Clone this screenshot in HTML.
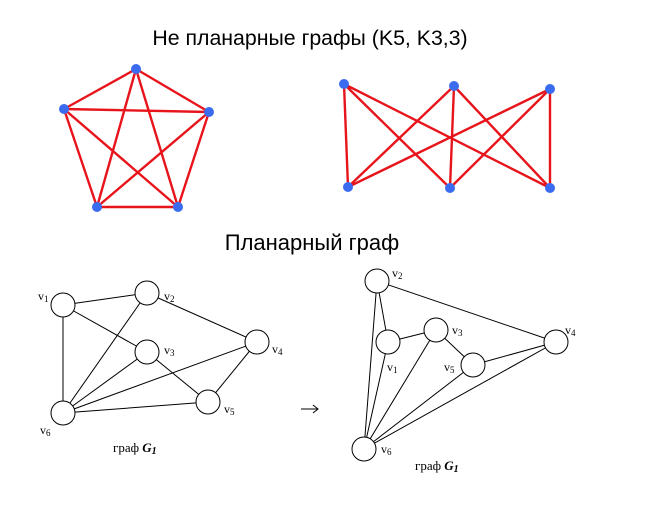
<!DOCTYPE html>
<html><head><meta charset="utf-8"><style>
html,body{margin:0;padding:0;background:#fff;}
svg{display:block;}
</style></head><body>
<svg width="672" height="523" viewBox="0 0 672 523" xmlns="http://www.w3.org/2000/svg">
<text x="310" y="45" font-family="Liberation Sans, sans-serif" font-size="21.3" text-anchor="middle" fill="#000">Не планарные графы (K5, K3,3)</text>
<text x="312" y="250" font-family="Liberation Sans, sans-serif" font-size="22" text-anchor="middle" fill="#000">Планарный граф</text>
<g stroke="#e8141c" stroke-width="2.4" fill="none">
<path d="M136,69L64,109M136,69L209,112M136,69L97,207M136,69L178,207M64,109L209,112M64,109L97,207M64,109L178,207M209,112L97,207M209,112L178,207M97,207L178,207"/>
<path d="M344,84L348,187M344,84L450,188M344,84L550,188M454,86L348,187M454,86L450,188M454,86L550,188M550,89L348,187M550,89L450,188M550,89L550,188"/>
</g>
<g fill="#3b6cf0">
<circle cx="136" cy="69" r="5"/><circle cx="64" cy="109" r="5"/><circle cx="209" cy="112" r="5"/><circle cx="97" cy="207" r="5"/><circle cx="178" cy="207" r="5"/>
<circle cx="344" cy="84" r="5"/><circle cx="454" cy="86" r="5"/><circle cx="550" cy="89" r="5"/><circle cx="348" cy="187" r="5"/><circle cx="450" cy="188" r="5"/><circle cx="550" cy="188" r="5"/>
</g>
<g stroke="#000" stroke-width="1" fill="none">
<path d="M63,305L147,293M63,305L147,352M63,305L63,413M147,293L257,342M147,293L63,413M147,352L208,402M147,352L63,413M257,342L208,402M257,342L63,413M208,402L63,413"/>
<path d="M377,281L388,342M377,281L556,342M377,281L364,449M388,342L436,330M388,342L364,449M436,330L473,365M436,330L364,449M473,365L556,342M473,365L364,449M556,342L364,449"/>
</g>
<g stroke="#000" stroke-width="1" fill="#fff">
<circle cx="63" cy="305" r="12"/><circle cx="147" cy="293" r="12"/><circle cx="147" cy="352" r="12"/><circle cx="257" cy="342" r="12"/><circle cx="208" cy="402" r="12"/><circle cx="63" cy="413" r="12"/>
<circle cx="377" cy="281" r="12"/><circle cx="388" cy="342" r="12"/><circle cx="436" cy="330" r="12"/><circle cx="473" cy="365" r="12"/><circle cx="556" cy="342" r="12"/><circle cx="364" cy="449" r="12"/>
</g>
<g font-family="Liberation Serif, serif" font-size="12" fill="#000">
<text x="38" y="300">v<tspan font-size="9" dy="2">1</tspan></text>
<text x="164" y="300">v<tspan font-size="9" dy="2">2</tspan></text>
<text x="164" y="354">v<tspan font-size="9" dy="2">3</tspan></text>
<text x="272" y="353">v<tspan font-size="9" dy="2">4</tspan></text>
<text x="224" y="413">v<tspan font-size="9" dy="2">5</tspan></text>
<text x="40" y="434">v<tspan font-size="9" dy="2">6</tspan></text>
<text x="392" y="277">v<tspan font-size="9" dy="2">2</tspan></text>
<text x="452" y="334">v<tspan font-size="9" dy="2">3</tspan></text>
<text x="565" y="334">v<tspan font-size="9" dy="2">4</tspan></text>
<text x="387" y="371">v<tspan font-size="9" dy="2">1</tspan></text>
<text x="444" y="371">v<tspan font-size="9" dy="2">5</tspan></text>
<text x="381" y="453">v<tspan font-size="9" dy="2">6</tspan></text>
<text x="113" y="452" font-size="13">граф <tspan font-weight="bold" font-style="italic">G</tspan><tspan font-weight="bold" font-style="italic" font-size="10" dy="2">1</tspan></text>
<text x="415" y="470" font-size="13">граф <tspan font-weight="bold" font-style="italic">G</tspan><tspan font-weight="bold" font-style="italic" font-size="10" dy="2">1</tspan></text>
</g>
<path d="M301,409H318M313,405L318,409L313,413" stroke="#000" stroke-width="1" fill="none"/>
</svg>
</body></html>
